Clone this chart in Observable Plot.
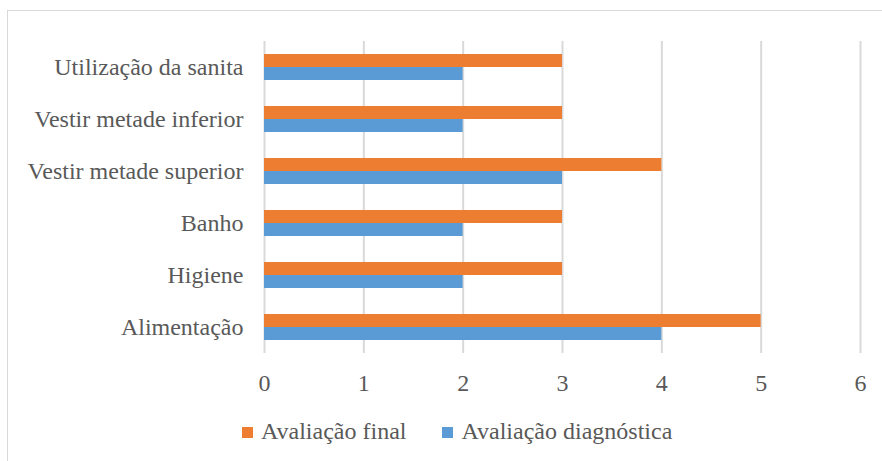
<!DOCTYPE html>
<html lang="pt">
<head>
<meta charset="utf-8">
<script src="https://cdn.jsdelivr.net/npm/d3@7"></script>
<script src="https://cdn.jsdelivr.net/npm/@observablehq/plot@0.6"></script>
<style>
  html, body { margin: 0; padding: 0; background: #fff; overflow: hidden; }
  body { width: 882px; height: 461px; position: relative; font-family: "Liberation Serif", "Times New Roman", serif; color: #595959; }
  #frame { position: absolute; left: 7px; top: 10px; width: 900px; height: 480px; border: 1px solid #d9d9d9; box-sizing: border-box; }
  #chart { position: absolute; left: 0; top: 0; }
  #legend { position: absolute; left: 242px; top: 419px; display: flex; font-size: 24px; line-height: 24px; white-space: nowrap; }
  .item { display: inline-flex; align-items: center; margin-right: 36px; }
  .swatch { display: inline-block; width: 11px; height: 11px; margin-right: 8px; margin-top: 3px; }
</style>
</head>
<body>
<div id="frame"></div>
<div id="chart"></div>
<div id="legend"></div>
<script>
// Atividades de vida diária avaliadas (de cima para baixo)
const atividades = [
  "Utilização da sanita",
  "Vestir metade inferior",
  "Vestir metade superior",
  "Banho",
  "Higiene",
  "Alimentação"
];
const avaliacaoFinal = [3, 3, 4, 3, 3, 5];
const avaliacaoDiagnostica = [2, 2, 3, 2, 2, 4];
const series = ["Avaliação final", "Avaliação diagnóstica"];
const cores = ["#ED7D31", "#5B9BD5"];
const xTicks = [0, 1, 2, 3, 4, 5, 6];

const linhas = atividades.flatMap((a, i) => [
  { atividade: a, serie: series[0], valor: avaliacaoFinal[i] },
  { atividade: a, serie: series[1], valor: avaliacaoDiagnostica[i] }
]);

const chart = Plot.plot({
  width: 882,
  height: 400,
  marginTop: 40,
  marginBottom: 47,
  marginLeft: 264,
  marginRight: 22,
  style: { fontFamily: "'Liberation Serif', 'Times New Roman', serif", fontSize: "24px", color: "#595959", background: "transparent", overflow: "visible" },
  x: { domain: [0, 6], ticks: xTicks, tickSize: 0, tickPadding: 20, label: null, tickFormat: d => String(d) },
  fy: { domain: atividades, padding: 0, label: null, tickSize: 0, tickPadding: 21, axis: "left" },
  y: { domain: series, axis: null, paddingInner: 0, paddingOuter: 0.93 },
  color: { domain: series, range: cores },
  marks: [
    Plot.gridX(xTicks, { stroke: "#d9d9d9", strokeOpacity: 1, strokeWidth: 2 }),
    Plot.barX(linhas, { fy: "atividade", y: "serie", x: "valor", fill: "serie" })
  ]
});
document.getElementById("chart").append(chart);

// Legenda
const legend = document.getElementById("legend");
series.forEach((s, i) => {
  const item = document.createElement("span");
  item.className = "item";
  const sw = document.createElement("span");
  sw.className = "swatch";
  sw.style.background = cores[i];
  const t = document.createElement("span");
  t.textContent = s;
  item.append(sw, t);
  legend.append(item);
});
</script>
</body>
</html>
